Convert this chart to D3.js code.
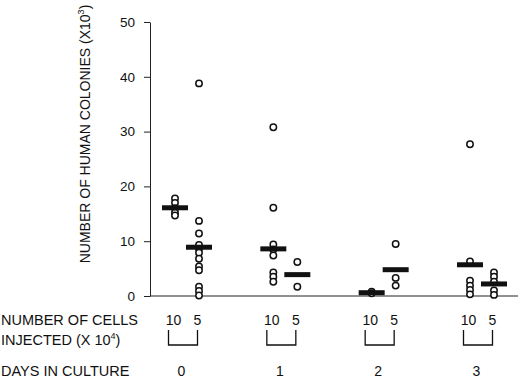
<!DOCTYPE html>
<html>
<head>
<meta charset="utf-8">
<script src="https://cdn.jsdelivr.net/npm/d3@7"></script>
<style>
  html, body { margin: 0; padding: 0; background: #fff; }
  svg { display: block; font-family: "Liberation Sans", Arial, sans-serif; }
</style>
</head>
<body>
<div id="chart"></div>
<script>
// data (x10^3 colonies)
const days = [0, 1, 2, 3];
const cellsInjected = ['10', '5'];
const colonies10 = [
  [17.8, 17.0, 16.0, 15.2, 14.7],
  [30.8, 16.1, 9.4, 8.5, 7.4, 4.3, 3.5, 2.6],
  [0.8, 0.5],
  [27.7, 6.3, 2.8, 1.9, 1.1, 0.3]
];
const colonies5 = [
  [38.8, 13.7, 11.4, 9.3, 8.6, 7.9, 6.8, 5.4, 4.7, 1.7, 0.9, 0.1],
  [6.2, 1.7],
  [9.5, 3.3, 1.9],
  [4.3, 3.5, 2.6, 1.0, 0.2]
];
const medians10 = [16.1, 8.6, 0.6, 5.7];
const medians5 = [8.9, 3.9, 4.8, 2.2];
const yTicks = [0, 10, 20, 30, 40, 50];

const width = 520, height = 378;
const svg = d3.select('#chart').append('svg')
  .attr('width', width)
  .attr('height', height);

// scales
const x = d3.scalePoint().domain(days).range([187, 482]);
const y = d3.scaleLinear().domain([0, 50]).range([296, 22]);
const colOffset = {'10': -12, '5': 12};
const colX = (day, cells) => x(day) + colOffset[cells];

// y axis
const yAxis = svg.append('g')
  .attr('transform', 'translate(150,0)')
  .call(d3.axisLeft(y).tickValues(yTicks).tickSize(6).tickPadding(9).tickSizeOuter(0));
yAxis.select('.domain').attr('stroke', '#222');
yAxis.selectAll('.tick line').attr('stroke', '#222');
yAxis.selectAll('.tick text')
  .attr('font-size', 13.5)
  .attr('fill', '#111')
  .attr('font-family', '"Liberation Sans", Arial, sans-serif');

// x baseline
svg.append('line')
  .attr('x1', 150).attr('x2', 518)
  .attr('y1', y(0)).attr('y2', y(0))
  .attr('stroke', '#222');

// y axis title
const yTitle = svg.append('text')
  .attr('transform', 'translate(90,134) rotate(-90)')
  .attr('text-anchor', 'middle')
  .attr('font-size', 14)
  .attr('fill', '#111');
yTitle.append('tspan').text('NUMBER OF HUMAN COLONIES (X10');
yTitle.append('tspan').attr('font-size', 9).attr('dy', -6).text('3');
yTitle.append('tspan').attr('dy', 6).text(')');

// points
const points = [];
days.forEach((d, i) => {
  colonies10[i].forEach(v => points.push({x: colX(d, '10'), v}));
  colonies5[i].forEach(v => points.push({x: colX(d, '5'), v}));
});
svg.append('g').selectAll('circle')
  .data(points)
  .join('circle')
  .attr('cx', d => d.x)
  .attr('cy', d => y(d.v))
  .attr('r', 3.2)
  .attr('fill', '#fff')
  .attr('stroke', '#111')
  .attr('stroke-width', 1.5);

// median bars
const medians = [];
days.forEach((d, i) => {
  medians.push({x: colX(d, '10'), v: medians10[i]});
  medians.push({x: colX(d, '5'), v: medians5[i]});
});
svg.append('g').selectAll('rect')
  .data(medians)
  .join('rect')
  .attr('x', d => d.x - 13)
  .attr('y', d => y(d.v) - 2.5)
  .attr('width', 26)
  .attr('height', 5)
  .attr('fill', '#111');

// bottom labels
const leftLabels = [
  {t: 'NUMBER OF CELLS', y: 325},
  {t: 'INJECTED (X 10', sup: '4', after: ')', y: 345},
  {t: 'DAYS IN CULTURE', y: 376}
];
leftLabels.forEach(l => {
  const t = svg.append('text')
    .attr('x', 1).attr('y', l.y)
    .attr('font-size', 14.5)
    .attr('fill', '#111');
  t.append('tspan').text(l.t);
  if (l.sup) {
    t.append('tspan').attr('font-size', 9).attr('dy', -6).text(l.sup);
    t.append('tspan').attr('dy', 6).text(l.after);
  }
});

// cell count labels, brackets, day labels
const groups = svg.append('g').selectAll('g')
  .data(days)
  .join('g');
cellsInjected.forEach(c => {
  groups.append('text')
    .attr('x', d => colX(d, c) - 1.5)
    .attr('y', 325)
    .attr('text-anchor', 'middle')
    .attr('font-size', 14)
    .attr('fill', '#111')
    .text(c);
});
groups.append('path')
  .attr('d', d => {
    const l = colX(d, '10') - 6.5, r = colX(d, '5') - 1.5;
    return `M${l},330V345H${r}V330`;
  })
  .attr('fill', 'none')
  .attr('stroke', '#111')
  .attr('stroke-width', 1.3);
groups.append('text')
  .attr('x', d => x(d) - 5.5)
  .attr('y', 376)
  .attr('text-anchor', 'middle')
  .attr('font-size', 14)
  .attr('fill', '#111')
  .text(d => d);
</script>
</body>
</html>
